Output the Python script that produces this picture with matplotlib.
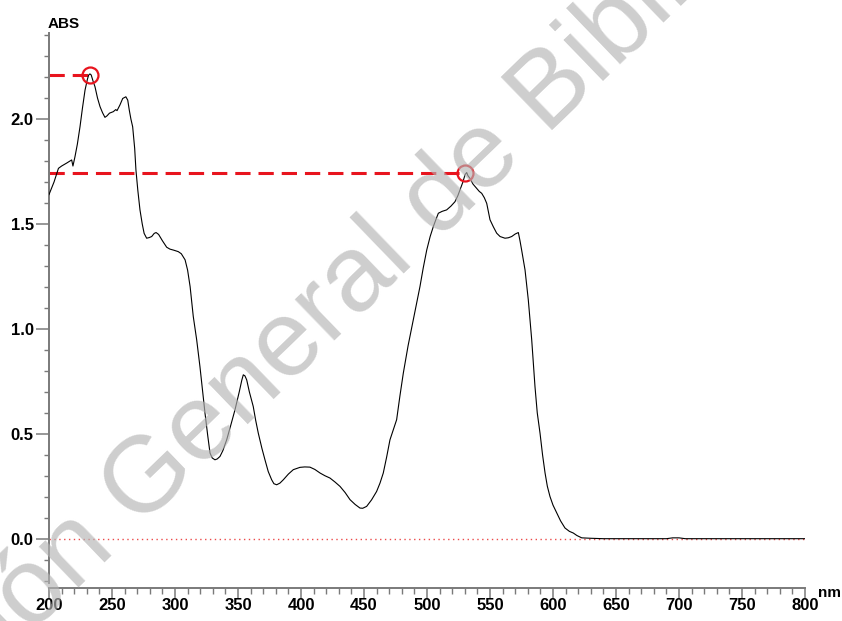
import matplotlib
matplotlib.use("Agg")
import matplotlib.pyplot as plt
from matplotlib.ticker import MultipleLocator, FixedLocator

# absorption spectrum, wavelength (nm) vs absorbance
wavelength = [
    200, 204, 207.5, 210, 214, 218, 219, 220.6, 222.5, 224.6, 226.5, 228.6,
    230.5, 231.5, 232.5, 233.5, 235, 236.5, 238.5, 240.5, 242.5, 244.4, 246,
    248, 251, 253, 254, 256.3, 258.5, 261, 262.5, 263.7, 265, 266.4, 268, 269,
    270.5, 272.2, 274, 275.5, 277.5, 279.5, 281.5, 283.5, 285, 287, 288, 290,
    293.4, 296, 299, 302.6, 305, 308, 310, 312, 314.5, 317.2, 319.8, 322,
    323.8, 326, 327.8, 329.5, 331.7, 333.5, 335.7, 338, 341, 344, 347.6, 351,
    353, 354.2, 355.5, 356.9, 359, 362.1, 364, 366.1, 369, 371.4, 374, 376.7,
    378.5, 380.7, 383.3, 386, 390, 393.9, 399.2, 403, 407.1, 411, 415.1, 419,
    423, 427, 431, 435, 438.9, 443, 446.8, 449, 452.1, 456, 460, 462.7, 465.3,
    468, 470.6, 473.3, 475.9, 478.5, 481.2, 485, 489.1, 492, 494.4, 497,
    499.8, 502.5, 505, 507, 509, 512, 515.6, 519, 522.2, 524.5, 526.2, 528.5,
    530.2, 531.5, 532.5, 534.1, 536.5, 539.4, 541.5, 543.4, 545.5, 547.4, 550,
    552.6, 555.3, 558, 561.9, 564.5, 567.2, 570, 572.5, 573.8, 575.1, 577.8,
    580.4, 583.1, 585.7, 587.5, 589.7, 591.7, 593.7, 595.5, 597.6, 600, 603,
    606, 609.5, 613, 616.1, 619, 622.8, 630, 640, 690, 695, 700, 705, 800,
]
absorbance = [
    1.64, 1.70, 1.765, 1.776, 1.79, 1.805, 1.776, 1.82, 1.88, 1.963, 2.05,
    2.138, 2.19, 2.21, 2.215, 2.21, 2.18, 2.154, 2.10, 2.059, 2.03, 2.008,
    2.015, 2.028, 2.035, 2.045, 2.04, 2.067, 2.098, 2.106, 2.09, 2.043, 2.00,
    1.963, 1.86, 1.757, 1.66, 1.567, 1.50, 1.455, 1.432, 1.435, 1.44, 1.455,
    1.459, 1.45, 1.44, 1.42, 1.389, 1.38, 1.375, 1.368, 1.358, 1.329, 1.28,
    1.201, 1.059, 0.948, 0.82, 0.70, 0.599, 0.49, 0.408, 0.385, 0.376, 0.38,
    0.392, 0.42, 0.471, 0.535, 0.614, 0.70, 0.755, 0.781, 0.776, 0.757, 0.70,
    0.63, 0.565, 0.503, 0.43, 0.376, 0.32, 0.281, 0.262, 0.257, 0.265, 0.281,
    0.308, 0.329, 0.340, 0.342, 0.341, 0.33, 0.313, 0.30, 0.289, 0.27, 0.249,
    0.22, 0.186, 0.163, 0.146, 0.145, 0.154, 0.185, 0.225, 0.265, 0.313, 0.39,
    0.471, 0.52, 0.567, 0.68, 0.789, 0.92, 1.043, 1.13, 1.201, 1.29, 1.376,
    1.44, 1.487, 1.52, 1.551, 1.56, 1.567, 1.585, 1.606, 1.635, 1.662, 1.70,
    1.735, 1.745, 1.73, 1.717, 1.69, 1.67, 1.655, 1.646, 1.625, 1.598, 1.52,
    1.487, 1.456, 1.44, 1.432, 1.434, 1.44, 1.452, 1.459, 1.42, 1.376, 1.281,
    1.138, 0.948, 0.725, 0.60, 0.503, 0.40, 0.313, 0.25, 0.201, 0.16, 0.122,
    0.085, 0.051, 0.035, 0.027, 0.015, 0.004, 0.002, 0.0, 0.0, 0.004, 0.004,
    0.0, 0.0,
]

# marked peaks
peak_nm = [232.5, 530.5]
peak_abs = [2.21, 1.744]

x_ticks = [200, 250, 300, 350, 400, 450, 500, 550, 600, 650, 700, 750, 800]
y_ticks = [0.0, 0.5, 1.0, 1.5, 2.0]

RED = "#e8141e"
AXIS_GRAY = "#7a7a7a"

fig = plt.figure(figsize=(8.42, 6.21), dpi=100)
ax = fig.add_axes([49 / 842, 33 / 621, (805 - 49) / 842, (588 - 33) / 621])

ax.set_xlim(200, 800)
ax.set_ylim(-0.235, 2.41)

# baseline at zero
ax.plot([200, 800], [0, 0], color="#ec4a4a", lw=1.0, ls=(0, (1, 2.5)), zorder=1)

# peak guides
for px, py in zip(peak_nm, peak_abs):
    ax.plot([200, px], [py, py], color=RED, lw=2.2, ls=(0, (5, 2.6)), zorder=2,
            solid_capstyle="butt", dash_capstyle="butt", clip_on=False)
    ax.plot(px, py, "o", ms=11.5, mfc="none", mec=RED, mew=1.6, zorder=4)

ax.plot(wavelength, absorbance, color="black", lw=0.8, zorder=3)

for side in ("top", "right"):
    ax.spines[side].set_visible(False)
ax.spines["left"].set_bounds(-0.21, 2.41)
for side in ("left", "bottom"):
    ax.spines[side].set_color(AXIS_GRAY)
    ax.spines[side].set_linewidth(1.4)

ax.xaxis.set_major_locator(FixedLocator(x_ticks))
ax.xaxis.set_minor_locator(MultipleLocator(10))
ax.yaxis.set_major_locator(FixedLocator(y_ticks))
ax.yaxis.set_minor_locator(FixedLocator([v / 10 for v in range(-2, 25)]))

ax.set_xticklabels([str(t) for t in x_ticks])
ax.set_yticklabels([f"{t:.1f}" for t in y_ticks])

ax.tick_params(axis="y", which="major", direction="out", length=9.5, width=1.1,
               color=AXIS_GRAY, pad=1.5)
ax.tick_params(axis="y", which="minor", direction="out", length=3.8, width=1.0,
               color=AXIS_GRAY)
ax.tick_params(axis="x", which="major", direction="out", length=7, width=1.1,
               color=AXIS_GRAY, pad=0.5)
ax.tick_params(axis="x", which="minor", direction="out", length=4, width=1.0,
               color=AXIS_GRAY)
for lbl in ax.get_xticklabels() + ax.get_yticklabels():
    lbl.set_fontfamily("Liberation Sans")
    lbl.set_fontweight("bold")
    lbl.set_fontsize(12)

fig.text(48 / 842, 1 - 24 / 621, "ABS", ha="left", va="center",
         fontsize=11, fontweight="bold", family="Liberation Sans")
fig.text(818 / 842, 1 - 593 / 621, "nm", ha="left", va="center",
         fontsize=11, fontweight="bold", family="Liberation Sans")

# library watermark across the plot
fig.text(338 / 842, 1 - 298 / 621, "Dirección General de Bibliotecas",
         ha="center", va="center", rotation=44, rotation_mode="anchor",
         fontsize=78, family="Liberation Sans", color="#b4b4b4", alpha=0.65,
         zorder=0)

fig.savefig("out.png", dpi=100, facecolor="white")
